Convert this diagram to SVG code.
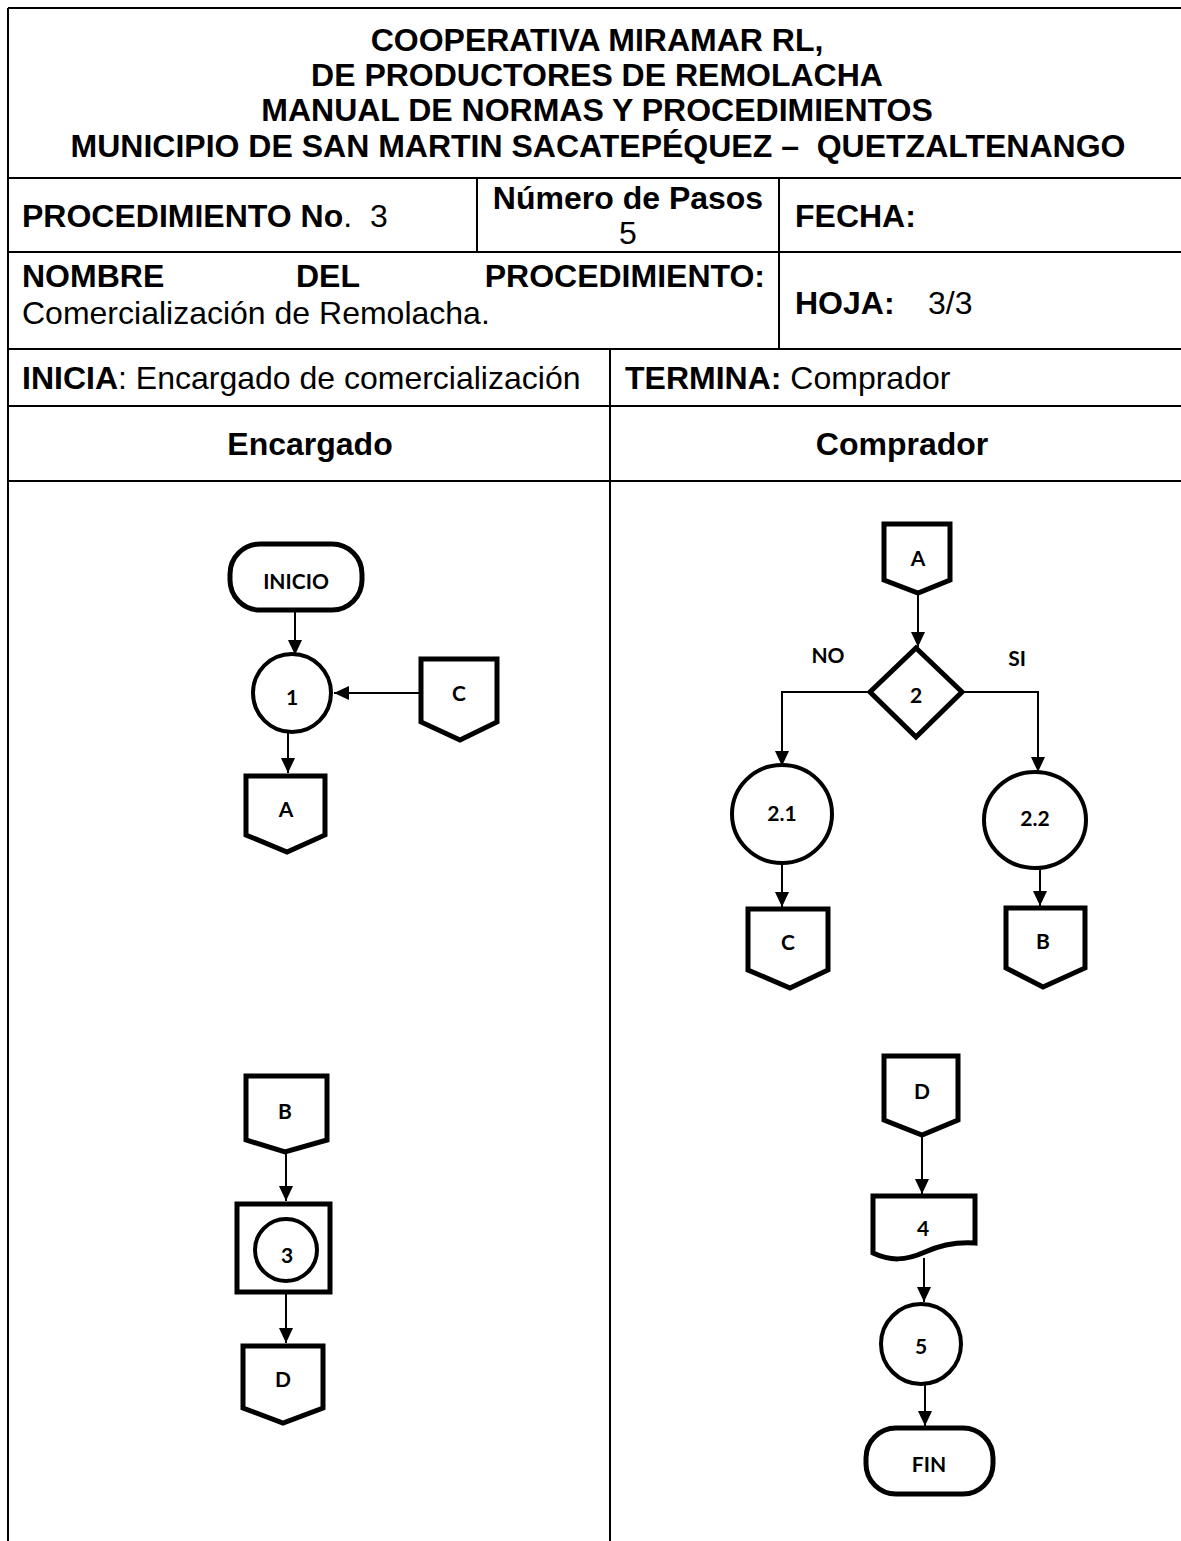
<svg xmlns="http://www.w3.org/2000/svg" width="1181" height="1541" viewBox="0 0 1181 1541">
<style>
.t{font-family:"Liberation Sans",Arial,sans-serif;font-size:32px;fill:#000}
.b{font-weight:bold}
.tbl{stroke:#000;stroke-width:2;fill:none}
.shp{fill:#fff;stroke:#000;stroke-width:5;stroke-linejoin:miter}
.cir{fill:#fff;stroke:#000;stroke-width:4}
.lbl{font-family:Lato,"Open Sans",sans-serif;font-weight:bold;font-size:21px;fill:#000;text-anchor:middle;dominant-baseline:central}
.con{stroke:#000;stroke-width:2;fill:none;marker-end:url(#ah)}
</style>
<defs>
<marker id="ah" markerUnits="userSpaceOnUse" markerWidth="16" markerHeight="14" refX="15" refY="7" orient="auto">
<path d="M0,0 L15,7 L0,14 z" fill="#000"/>
</marker>
</defs>
<rect width="1181" height="1541" fill="#fff"/>

<g id="table">
<path class="tbl" d="M8,8 H1181 M8,8 V1541 M8,178 H1181 M8,252 H1181 M8,349 H1181 M8,406 H1181 M8,481 H1181 M477,178 V252 M779,178 V349 M610,349 V1541"/>
<text class="t b" x="597" y="51" text-anchor="middle">COOPERATIVA MIRAMAR RL,</text>
<text class="t b" x="597" y="86" text-anchor="middle">DE PRODUCTORES DE REMOLACHA</text>
<text class="t b" x="597" y="121" text-anchor="middle">MANUAL DE NORMAS Y PROCEDIMIENTOS</text>
<text class="t b" x="598" y="157" text-anchor="middle" xml:space="preserve">MUNICIPIO DE SAN MARTIN SACATEPÉQUEZ –  QUETZALTENANGO</text>
<text class="t" x="22" y="227" xml:space="preserve"><tspan class="b">PROCEDIMIENTO No</tspan>.  3</text>
<text class="t b" x="628" y="209" text-anchor="middle">Número de Pasos</text>
<text class="t" x="628" y="244" text-anchor="middle">5</text>
<text class="t b" x="795" y="227">FECHA:</text>
<text class="t b" x="22" y="287">NOMBRE</text>
<text class="t b" x="296" y="287">DEL</text>
<text class="t b" x="765" y="287" text-anchor="end">PROCEDIMIENTO:</text>
<text class="t" x="22" y="324">Comercialización de Remolacha.</text>
<text class="t b" x="795" y="314">HOJA:</text>
<text class="t" x="928" y="314">3/3</text>
<text class="t" x="22" y="389"><tspan class="b">INICIA</tspan>: Encargado de comercialización</text>
<text class="t" x="625" y="389"><tspan class="b">TERMINA:</tspan> Comprador</text>
<text class="t b" x="310" y="455" text-anchor="middle">Encargado</text>
<text class="t b" x="902" y="455" text-anchor="middle">Comprador</text>
</g>

<g id="connectors">
<path class="con" d="M295,610 V655"/>
<path class="con" d="M420,693 H334"/>
<path class="con" d="M288,732 V773"/>
<path class="con" d="M918,592 V647"/>
<path class="con" d="M870,692 H782 V766"/>
<path class="con" d="M962,692 H1038 V772"/>
<path class="con" d="M782,863 V907"/>
<path class="con" d="M1040,867 V906"/>
<path class="con" d="M286,1152 V1201"/>
<path class="con" d="M286,1292 V1343"/>
<path class="con" d="M922,1135 V1194"/>
<path class="con" d="M924,1258 V1302"/>
<path class="con" d="M925,1385 V1426"/>
<text class="lbl" x="828" y="654">NO</text>
<text class="lbl" x="1017" y="657">SI</text>
</g>

<g id="inicio">
<rect class="shp" x="230" y="544" width="132" height="66" rx="30" ry="30"/>
<text class="lbl" x="296" y="580">INICIO</text>
</g>
<g id="step1">
<circle class="cir" cx="292" cy="693" r="39"/>
<text class="lbl" x="292" y="696">1</text>
</g>
<g id="conC-left">
<polygon class="shp" points="421,659 497,659 497,722 460,740 421,722"/>
<text class="lbl" x="459" y="692">C</text>
</g>
<g id="conA-left">
<polygon class="shp" points="246,776 325,776 325,835 287,852 246,835"/>
<text class="lbl" x="286" y="808">A</text>
</g>

<g id="conA-right">
<polygon class="shp" points="884,524 950,524 950,580 918,593 884,580"/>
<text class="lbl" x="918" y="557">A</text>
</g>
<g id="step2">
<polygon class="shp" points="916,648 962,692 916,737 870,692"/>
<text class="lbl" x="916" y="694">2</text>
</g>
<g id="step2-1">
<ellipse class="cir" cx="782" cy="814" rx="50" ry="49"/>
<text class="lbl" x="782" y="812">2.1</text>
</g>
<g id="step2-2">
<ellipse class="cir" cx="1035" cy="820" rx="51" ry="48"/>
<text class="lbl" x="1035" y="817">2.2</text>
</g>
<g id="conC-right">
<polygon class="shp" points="748,909 828,909 828,970 790,988 748,970"/>
<text class="lbl" x="788" y="941">C</text>
</g>
<g id="conB-right">
<polygon class="shp" points="1006,908 1085,908 1085,968 1043,987 1006,968"/>
<text class="lbl" x="1043" y="940">B</text>
</g>

<g id="conB-left">
<polygon class="shp" points="246,1076 327,1076 327,1140 285,1152 246,1140"/>
<text class="lbl" x="285" y="1110">B</text>
</g>
<g id="step3">
<rect class="shp" x="237" y="1204" width="93" height="88"/>
<circle class="cir" cx="286" cy="1250" r="31"/>
<text class="lbl" x="287" y="1254">3</text>
</g>
<g id="conD-left">
<polygon class="shp" points="243,1346 323,1346 323,1408 283,1423 243,1408"/>
<text class="lbl" x="283" y="1378">D</text>
</g>

<g id="conD-right">
<polygon class="shp" points="884,1056 958,1056 958,1120 922,1135 884,1120"/>
<text class="lbl" x="922" y="1090">D</text>
</g>
<g id="step4">
<path class="shp" d="M873,1196 H975 V1243 C960,1242 945,1243 925,1252 C905,1261 890,1261 873,1253 Z"/>
<text class="lbl" x="923" y="1227">4</text>
</g>
<g id="step5">
<circle class="cir" cx="921" cy="1344" r="40"/>
<text class="lbl" x="921" y="1345">5</text>
</g>
<g id="fin">
<rect class="shp" x="866" y="1428" width="127" height="66" rx="30" ry="30"/>
<text class="lbl" x="929" y="1463">FIN</text>
</g>
</svg>
